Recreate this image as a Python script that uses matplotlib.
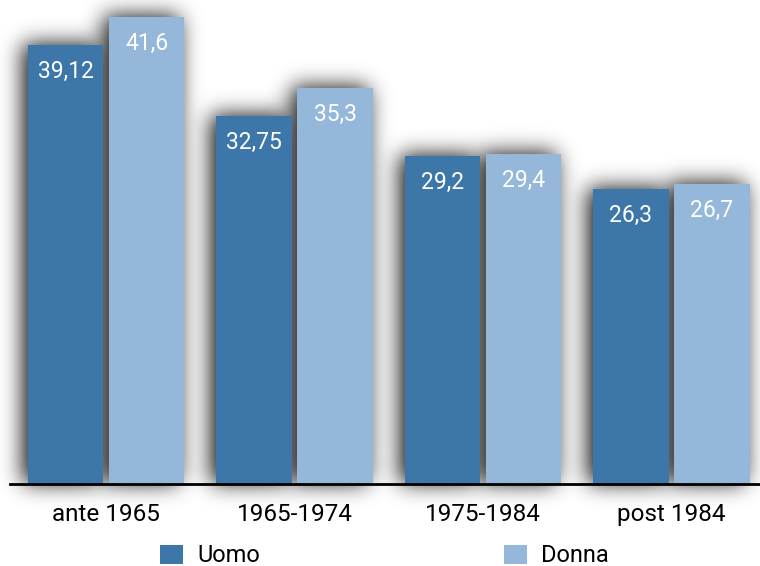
import numpy as np
import matplotlib
matplotlib.use("Agg")
import matplotlib.pyplot as plt
from matplotlib.patches import Patch

categories = ["ante 1965", "1965-1974", "1975-1984", "post 1984"]
uomo = [39.12, 32.75, 29.2, 26.3]
donna = [41.6, 35.3, 29.4, 26.7]
uomo_labels = ["39,12", "32,75", "29,2", "26,3"]
donna_labels = ["41,6", "35,3", "29,4", "26,7"]
series_names = ["Uomo", "Donna"]

C_UOMO = "#3d76a8"
C_DONNA = "#94b7da"

plt.rcParams['font.family'] = ['Roboto', 'DejaVu Sans']


def _gauss(sigma):
    r = int(3 * sigma)
    xk = np.arange(-r, r + 1)
    k = np.exp(-xk ** 2 / (2.0 * sigma ** 2))
    return k / k.sum()


class BlurShadow:
    def __init__(self, sigma=6, alpha=0.6, ox=-3, oy=0):
        self.sigma, self.alpha, self.ox, self.oy = sigma, alpha, ox, oy

    def __call__(self, im, dpi):
        pad = int(3 * self.sigma) + max(abs(self.ox), abs(self.oy)) + 2
        a = np.pad(im[..., 3], pad)
        k = _gauss(self.sigma)
        a = np.apply_along_axis(lambda m: np.convolve(m, k, mode="same"), 0, a)
        a = np.apply_along_axis(lambda m: np.convolve(m, k, mode="same"), 1, a)
        a = np.roll(a, self.ox, axis=1)
        a = np.roll(a, -self.oy, axis=0)
        out = np.zeros(a.shape + (4,))
        out[..., 3] = np.clip(a * self.alpha, 0, 1)
        return out, -pad, -pad


fig = plt.figure(figsize=(7.6, 5.66), dpi=100)
ax = fig.add_axes([10 / 760, 82 / 566, 750 / 760, 484 / 566])

x = np.arange(len(categories))
w = 0.40
off = 0.215

# shadows
for xs, vals in ((x - off, uomo), (x + off, donna)):
    sh = ax.bar(xs, vals, w, color="black", zorder=1)
    for p in sh:
        p.set_clip_on(False)
        p.set_agg_filter(BlurShadow(sigma=11, alpha=0.95, ox=-5, oy=1))
        p.set_rasterized(True)

b1 = ax.bar(x - off, uomo, w, color=C_UOMO, zorder=3)
b2 = ax.bar(x + off, donna, w, color=C_DONNA, zorder=3)

for bars, labels in ((b1, uomo_labels), (b2, donna_labels)):
    for p, lab in zip(bars, labels):
        ax.annotate(lab, (p.get_x() + p.get_width() / 2, p.get_height()),
                    xytext=(0, -19), textcoords="offset points",
                    ha="center", va="center", color="white", fontsize=16.5,
                    zorder=5)

ax.set_xlim(-0.51, 3.47)
ax.set_ylim(0, 43.1)
for s in ["top", "right", "left"]:
    ax.spines[s].set_visible(False)
ax.spines["bottom"].set_linewidth(2)
ax.spines["bottom"].set_color("black")
ax.spines["bottom"].set_zorder(6)
ax.set_yticks([])
ax.set_xticks(x)
ax.set_xticklabels(categories, fontsize=17.5)
ax.tick_params(axis="x", length=0, pad=14)

handles = [Patch(facecolor=C_UOMO), Patch(facecolor=C_DONNA)]
fig.legend(handles, series_names, loc="center", bbox_to_anchor=(384.5 / 760, 1 - 556 / 566),
           ncol=2, frameon=False, fontsize=17, handlelength=1.0, handleheight=0.85,
           handletextpad=0.6, columnspacing=10.3, borderpad=0, borderaxespad=0)

fig.savefig("out.png", dpi=100)
